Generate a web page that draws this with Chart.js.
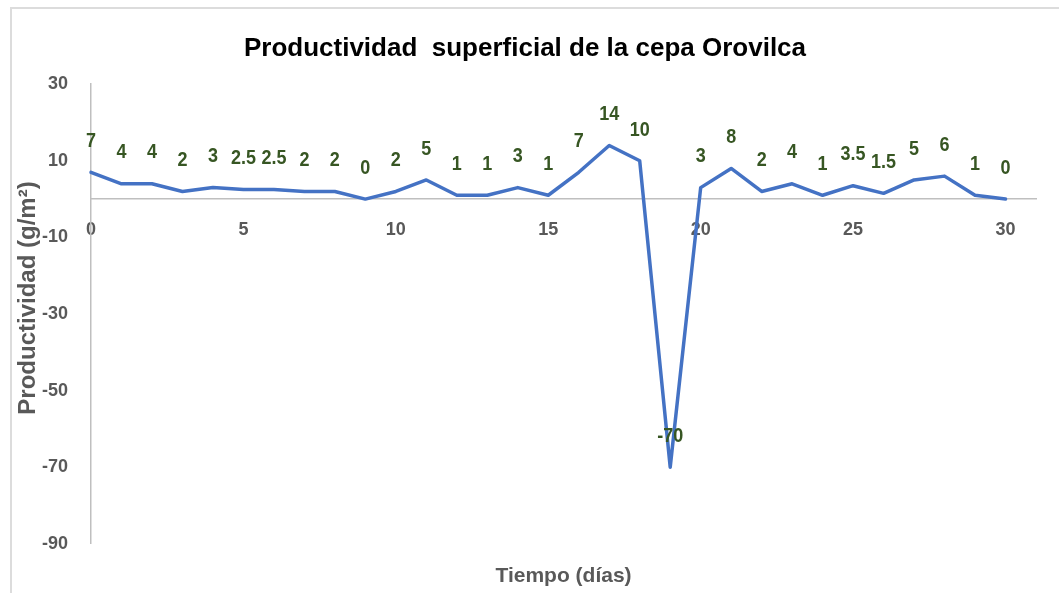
<!DOCTYPE html>
<html lang="es">
<head>
<meta charset="utf-8">
<title>Productividad superficial de la cepa Orovilca</title>
<script src="https://cdn.jsdelivr.net/npm/chart.js@4.4.1/dist/chart.umd.min.js"></script>
<style>
    html, body { margin: 0; padding: 0; background: #fff; }
    #marco {
        position: absolute; left: 0; top: 0; width: 1059px; height: 593px;
    }
    #borde {
        position: absolute; left: 10px; top: 7px; width: 1049px; height: 586px;
        border-left: 2px solid #dcdcdc; border-top: 2px solid #dcdcdc;
        box-sizing: border-box;
    }
    #grafico { position: absolute; left: 0; top: 0; }
</style>
</head>
<body>
<div id="marco">
    <div id="borde"></div>
    <canvas id="grafico" width="1059" height="593"></canvas>
</div>
<script>
// Datos
const dias = [0, 1, 2, 3, 4, 5, 6, 7, 8, 9, 10, 11, 12, 13, 14, 15, 16, 17, 18, 19, 20, 21, 22, 23, 24, 25, 26, 27, 28, 29, 30];
const productividad = [7, 4, 4, 2, 3, 2.5, 2.5, 2, 2, 0, 2, 5, 1, 1, 3, 1, 7, 14, 10, -70, 3, 8, 2, 4, 1, 3.5, 1.5, 5, 6, 1, 0];
const ticksY = [30, 10, -10, -30, -50, -70, -90];
const ticksX = [0, 5, 10, 15, 20, 25, 30];

const titulo = 'Productividad  superficial de la cepa Orovilca';
const tituloX = 'Tiempo (días)';
const tituloY = 'Productividad (g/m²)';

const fuente = "'Liberation Sans', Arial, sans-serif";
const grisTexto = '#595959';
const verdeEtiqueta = '#375623';
const azulLinea = '#4472C4';

// Etiquetas de datos encima de cada punto (un poco estiradas en vertical, como en la imagen)
const etiquetasPlugin = {
    id: 'etiquetas',
    afterDatasetsDraw(chart) {
        const ctx = chart.ctx;
        const meta = chart.getDatasetMeta(0);
        const estira = 1.15;
        ctx.save();
        ctx.font = 'bold 18px ' + fuente;
        ctx.fillStyle = verdeEtiqueta;
        ctx.textAlign = 'center';
        ctx.textBaseline = 'middle';
        meta.data.forEach((pt, i) => {
            ctx.save();
            ctx.translate(pt.x, pt.y - 31);
            ctx.scale(1, estira);
            ctx.fillText(String(productividad[i]), 0, 0);
            ctx.restore();
        });
        ctx.restore();
    }
};

// Título del eje Y dibujado a mano para ubicarlo como en Excel
const tituloYPlugin = {
    id: 'tituloY',
    afterDraw(chart) {
        const ctx = chart.ctx;
        ctx.save();
        ctx.translate(28, 298);
        ctx.rotate(-Math.PI / 2);
        ctx.font = 'bold 24px ' + fuente;
        ctx.fillStyle = grisTexto;
        ctx.textAlign = 'center';
        ctx.textBaseline = 'middle';
        ctx.fillText(tituloY, 0, 0);
        ctx.restore();
    }
};

const puntos = dias.map((d, i) => ({ x: d, y: productividad[i] }));

new Chart(document.getElementById('grafico').getContext('2d'), {
    type: 'line',
    data: {
        datasets: [{
            label: 'Productividad',
            data: puntos,
            borderColor: azulLinea,
            backgroundColor: azulLinea,
            borderWidth: 3.5,
            borderJoinStyle: 'round',
            borderCapStyle: 'round',
            pointRadius: 0,
            tension: 0,
            fill: false,
            clip: false
        }]
    },
    options: {
        responsive: false,
        animation: false,
        devicePixelRatio: 1,
        layout: { padding: { left: 14, right: 23, top: 0, bottom: 0 } },
        plugins: {
            legend: { display: false },
            tooltip: { enabled: false },
            title: {
                display: true,
                text: titulo,
                color: '#000',
                font: { family: fuente, size: 26, weight: 'bold' },
                padding: { top: 33, bottom: 20 }
            },
            subtitle: {
                display: true,
                position: 'bottom',
                fullSize: false,
                text: tituloX,
                color: grisTexto,
                font: { family: fuente, size: 21, weight: 'bold' },
                padding: { top: 20, bottom: 4 }
            }
        },
        scales: {
            x: {
                type: 'linear',
                position: { y: 0 },
                min: 0,
                max: 31,
                grid: { display: false, drawTicks: false },
                border: { display: true, color: '#bfbfbf', width: 1.5 },
                ticks: {
                    stepSize: 5,
                    includeBounds: false,
                    padding: 20,
                    color: grisTexto,
                    font: { family: fuente, size: 18, weight: 'bold' },
                    maxRotation: 0
                },
                afterBuildTicks(scale) {
                    scale.ticks = ticksX.map(v => ({ value: v }));
                }
            },
            y: {
                type: 'linear',
                min: -90,
                max: 30,
                grid: { display: false, drawTicks: false },
                border: { display: true, color: '#bfbfbf', width: 1.5 },
                ticks: {
                    padding: 23,
                    color: grisTexto,
                    font: { family: fuente, size: 18, weight: 'bold' }
                },
                afterBuildTicks(scale) {
                    scale.ticks = ticksY.map(v => ({ value: v }));
                },
                afterFit(scale) {
                    scale.width = 77;
                }
            }
        }
    },
    plugins: [etiquetasPlugin, tituloYPlugin]
});
</script>
</body>
</html>
